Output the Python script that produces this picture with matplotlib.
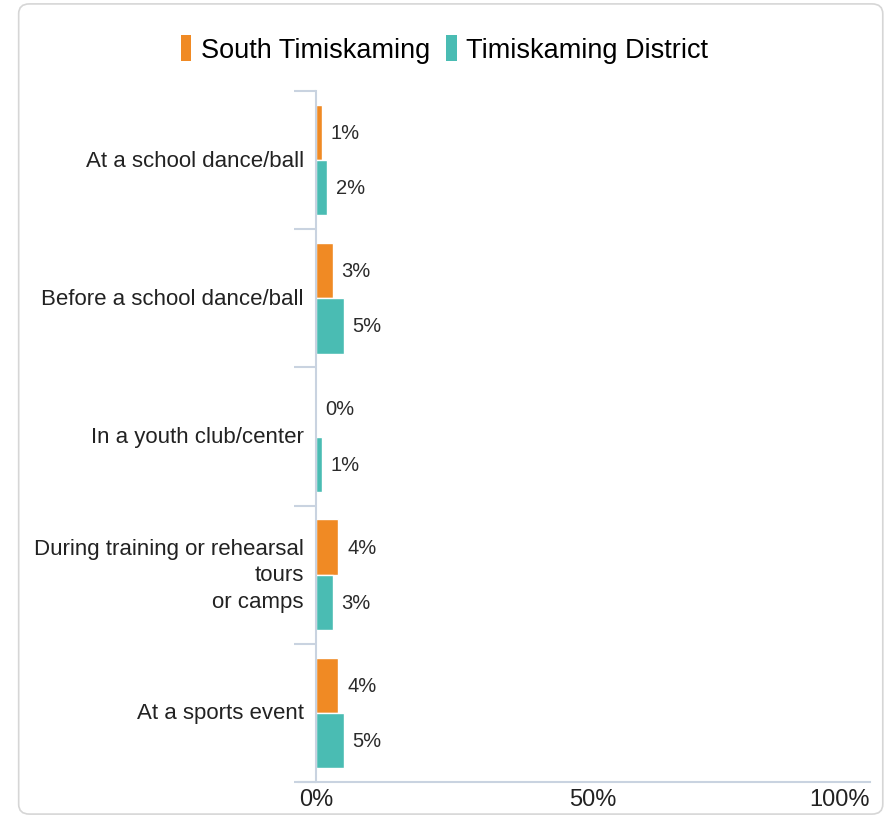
import matplotlib.pyplot as plt
import numpy as np
from matplotlib.patches import FancyBboxPatch, Patch

plt.rcParams['font.family'] = ['Liberation Sans', 'DejaVu Sans']

categories = [
    "At a school dance/ball",
    "Before a school dance/ball",
    "In a youth club/center",
    "During training or rehearsal\ntours\nor camps",
    "At a sports event",
]
south = [1, 3, 0, 4, 4]
district = [2, 5, 1, 3, 5]
series_names = ["South Timiskaming", "Timiskaming District"]
colors = ["#F08A24", "#4ABCB3"]
axis_col = "#C9D3E0"

fig = plt.figure(figsize=(8.89, 8.2), dpi=100)

# rounded card border
card = FancyBboxPatch((0.021, 0.006), 0.972, 0.988, boxstyle="round,pad=0,rounding_size=0.012",
                      transform=fig.transFigure, fill=False, edgecolor="#D6D6D6", linewidth=1.2)
fig.patches.append(card)

ax = fig.add_axes([316 / 889, 1 - 783 / 820, (870 - 316) / 889, (783 - 92) / 820])

n = len(categories)
y = np.arange(n)
h = 0.4
ax.barh(y - h / 2, south, height=h, color=colors[0], edgecolor="white", linewidth=1)
ax.barh(y + h / 2, district, height=h, color=colors[1], edgecolor="white", linewidth=1)

for i in range(n):
    ax.text(south[i] + 1.6, y[i] - h / 2, f"{south[i]}%", va="center", ha="left",
            fontsize=14.5, color="#2b2b2b")
    ax.text(district[i] + 1.6, y[i] + h / 2, f"{district[i]}%", va="center", ha="left",
            fontsize=14.5, color="#2b2b2b")

ax.set_xlim(0, 100)
ax.set_ylim(n - 0.5, -0.5)

ax.set_yticks(np.arange(n + 1) - 0.5, minor=False)
ax.set_yticklabels([])
ax.tick_params(axis="y", length=16, color=axis_col, width=1.5)
for i, c in enumerate(categories):
    ax.text(-2.2, y[i], c, ha="right", va="center", fontsize=16, color="#222222",
            linespacing=1.35)

ax.set_xticks([0, 50, 100])
ax.set_xticklabels(["0%", "50%", "100%"], fontsize=17, color="#222222")
ax.tick_params(axis="x", length=0, pad=4)
xt = ax.get_xticklabels()
xt[-1].set_ha("right")
xt[-1].set_x(100)

for s in ["top", "right"]:
    ax.spines[s].set_visible(False)
ax.spines["left"].set_color(axis_col)
ax.spines["left"].set_linewidth(1.5)
ax.spines["bottom"].set_color(axis_col)
ax.spines["bottom"].set_linewidth(1.5)
ax.spines["bottom"].set_bounds(-3, 100)
ax.spines["bottom"].set_clip_on(False)

handles = [Patch(facecolor=colors[0]), Patch(facecolor=colors[1])]
fig.legend(handles, series_names, loc="center", bbox_to_anchor=(0.5, 1 - 50 / 820),
           ncol=2, frameon=False, fontsize=19.5, handlelength=0.38, handleheight=1.1,
           handletextpad=0.35, columnspacing=0.6)

fig.savefig("out.png", dpi=100)
